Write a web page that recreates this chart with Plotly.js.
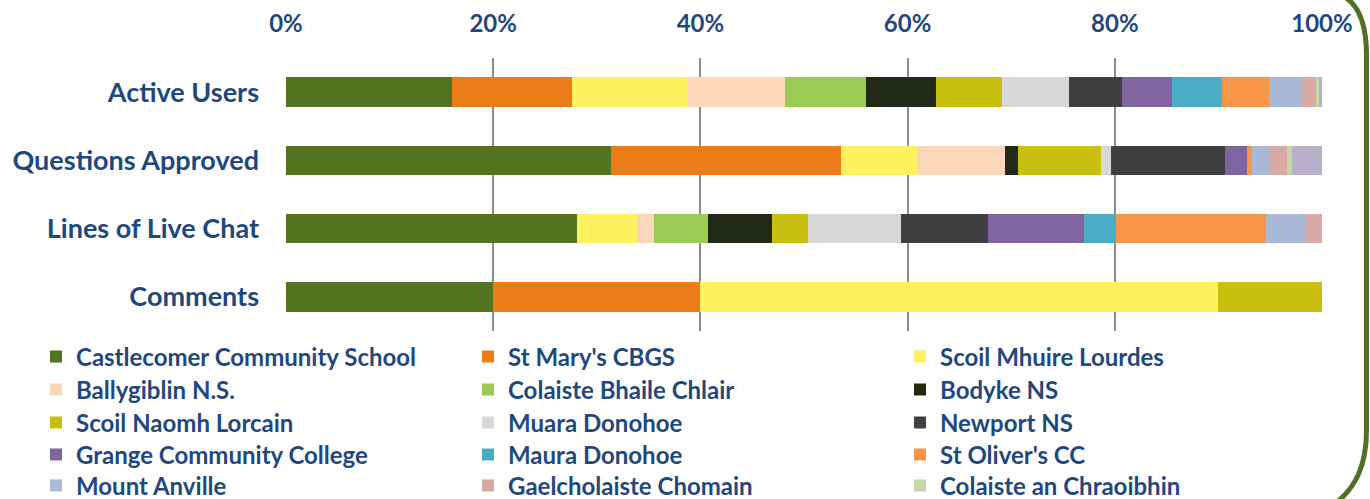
<!DOCTYPE html>
<html>
<head>
<meta charset="utf-8">
<script src="https://cdn.plot.ly/plotly-3.0.1.min.js"></script>
<style>html,body{margin:0;padding:0;background:#fff;}#chart{width:1370px;height:499px;}</style>
</head>
<body>
<div id="chart"></div>
<script>
// Categories (top to bottom)
const categories = ["Active Users", "Questions Approved", "Lines of Live Chat", "Comments"];

// Series names
const schoolNames = [
  "Castlecomer Community School", "St Mary's CBGS", "Scoil Mhuire Lourdes",
  "Ballygiblin N.S.", "Colaiste Bhaile Chlair", "Bodyke NS",
  "Scoil Naomh Lorcain", "Muara Donohoe", "Newport NS",
  "Grange Community College", "Maura Donohoe", "St Oliver's CC",
  "Mount Anville", "Gaelcholaiste Chomain", "Colaiste an Chraoibhin",
  "Other"
];

// Share (%) per category: [Active Users, Questions Approved, Lines of Live Chat, Comments]
const castlecomer   = [16.0, 31.4, 28.1, 20];
const stMarys       = [11.6, 22.2,  0.0, 20];
const scoilMhuire   = [11.2,  7.3,  5.8, 50];
const ballygiblin   = [ 9.4,  8.5,  1.6,  0];
const colaisteBhaile= [ 7.8,  0.0,  5.2,  0];
const bodyke        = [ 6.7,  1.3,  6.2,  0];
const naomhLorcain  = [ 6.4,  8.0,  3.5, 10];
const muara         = [ 6.5,  0.9,  9.0,  0];
const newport       = [ 5.1, 11.0,  8.4,  0];
const grange        = [ 4.8,  2.2,  9.2,  0];
const maura         = [ 4.8,  0.0,  3.1,  0];
const stOlivers     = [ 4.6,  0.4, 14.5,  0];
const mountAnville  = [ 3.2,  1.7,  3.8,  0];
const gaelcholaiste = [ 1.3,  1.7,  1.6,  0];
const chraoibhin    = [ 0.3,  0.5,  0.0,  0];
const other         = [ 0.3,  2.9,  0.0,  0];

const seriesValues = [castlecomer, stMarys, scoilMhuire, ballygiblin, colaisteBhaile, bodyke,
  naomhLorcain, muara, newport, grange, maura, stOlivers, mountAnville, gaelcholaiste, chraoibhin, other];

const xTickVals = [0, 20, 40, 60, 80, 100];
const xTickText = ["0%", "20%", "40%", "60%", "80%", "100%"];

const colors = ["#52731F", "#EC7C17", "#FFF261", "#FAD7B8", "#9BCB55", "#222916",
  "#C9BF0E", "#D8D8D8", "#404042", "#8064A0", "#4BACC6", "#F79646",
  "#A9B9D7", "#D9A9A8", "#C4D7A9", "#B8AFC9"];

const textColor = "#1F497D";
const fontFam = "Lato, 'Open Sans', sans-serif";

const legendIds = ["legend", "legend2", "legend3", "legend4", "legend5"];

const traces = seriesValues.map((vals, i) => ({
  type: "bar",
  orientation: "h",
  name: schoolNames[i],
  x: vals,
  y: categories,
  marker: {color: colors[i], line: {width: 0}},
  showlegend: i < 15,
  legend: legendIds[Math.min(4, Math.floor(i / 3))],
  hovertemplate: "%{y}: %{x:.1f}%<extra>" + schoolNames[i] + "</extra>"
}));

// plot area geometry (pixels)
const L = 286, R = 48, T = 58, B = 168, W = 1370, H = 499;
const pw = W - L - R, ph = H - T - B;
const px = v => (v - L) / pw;
const py = v => (H - B - v) / ph;

const borderPath =
  "M" + px(1345) + "," + py(-3) +
  " C" + px(1362) + "," + py(8) + " " + px(1366.5) + "," + py(30) + " " + px(1366.5) + "," + py(55) +
  " L" + px(1366.5) + "," + py(430) +
  " C" + px(1366.5) + "," + py(465) + " " + px(1356) + "," + py(487) + " " + px(1336) + "," + py(503);

const legendFont = {family: fontFam, size: 24, color: textColor, weight: 700};
const rowCenters = [357, 390, 423, 455, 486];
function legendRow(k) {
  return {
    orientation: "h",
    x: px(36), xanchor: "left",
    y: py(rowCenters[k]), yanchor: "middle",
    entrywidth: 387, entrywidthmode: "pixels",
    font: legendFont,
    traceorder: "normal",
    bgcolor: "rgba(0,0,0,0)"
  };
}

const layout = {
  width: W, height: H,
  margin: {l: L, r: R, t: T, b: B, pad: 0, autoexpand: false},
  paper_bgcolor: "#fff", plot_bgcolor: "#fff",
  barmode: "stack",
  bargap: 0.57,
  font: {family: fontFam, color: textColor, size: 19, weight: 700},
  xaxis: {
    side: "top",
    range: [0, 100],
    tickvals: xTickVals, ticktext: xTickText,
    showgrid: true, gridcolor: "#8C8C8C", gridwidth: 2,
    zeroline: false, showline: false, ticks: "",
    ticklabelstandoff: 20,
    tickfont: {family: fontFam, size: 24, color: textColor, weight: 700},
    fixedrange: true
  },
  yaxis: {
    type: "category",
    autorange: "reversed",
    showgrid: false, zeroline: false, showline: false, ticks: "",
    ticklabelstandoff: 26,
    tickfont: {family: fontFam, size: 27, color: textColor, weight: 700},
    fixedrange: true
  },
  legend: legendRow(0),
  legend2: legendRow(1),
  legend3: legendRow(2),
  legend4: legendRow(3),
  legend5: legendRow(4),
  shapes: [{
    type: "path", xref: "paper", yref: "paper",
    path: borderPath,
    line: {color: "#4F7123", width: 5}
  }]
};

Plotly.newPlot("chart", traces, layout, {displayModeBar: false});
</script>
</body>
</html>
